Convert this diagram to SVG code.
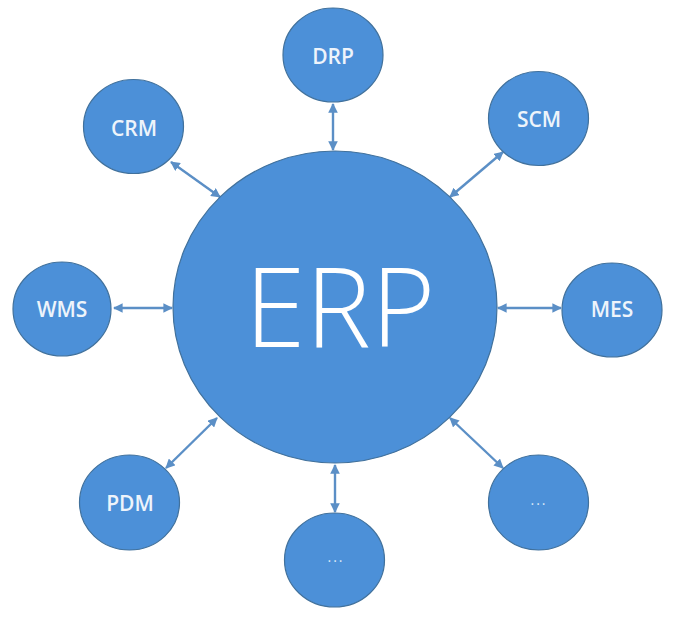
<svg xmlns="http://www.w3.org/2000/svg" width="677" height="617" viewBox="0 0 677 617">
<defs>
<style>
.node{fill:#4c90d8;stroke:#41719c;stroke-width:1.2}
.lbl{font-family:"Open Sans","Liberation Sans",sans-serif;font-weight:600;font-size:21px;fill:#eef4fb;text-anchor:middle}
.dots{font-family:"Open Sans","Liberation Sans",sans-serif;font-size:14px;fill:#dde9f7;text-anchor:middle;letter-spacing:2px}
.big{font-family:"Open Sans","Liberation Sans",sans-serif;font-weight:300;font-size:110px;fill:#ffffff;text-anchor:middle}
.conn{stroke:#5b8fc6;stroke-width:2.4;fill:none;marker-start:url(#ah);marker-end:url(#ah)}
</style>
<marker id="ah" viewBox="0 0 10 10" refX="9" refY="5" markerWidth="4" markerHeight="4" orient="auto-start-reverse" markerUnits="strokeWidth">
<path d="M0,0 L10,5 L0,10 z" fill="#5b8fc6"/>
</marker>
</defs>
<rect width="677" height="617" fill="#ffffff"/>
<g id="connectors">
<line class="conn" x1="333" y1="104" x2="333" y2="150"/>
<line class="conn" x1="171" y1="162" x2="220" y2="197"/>
<line class="conn" x1="503" y1="152" x2="450" y2="197"/>
<line class="conn" x1="114" y1="308" x2="172" y2="308"/>
<line class="conn" x1="498" y1="308" x2="561" y2="308"/>
<line class="conn" x1="217" y1="418" x2="166" y2="468"/>
<line class="conn" x1="450" y1="418" x2="503" y2="468"/>
<line class="conn" x1="335" y1="465" x2="335" y2="512"/>
</g>
<g id="ERP"><ellipse class="node" cx="335" cy="307" rx="162" ry="156"/><text class="big" x="340" y="347">ERP</text></g>
<g id="DRP"><ellipse class="node" cx="333" cy="55" rx="50" ry="47"/><text class="lbl" x="333" y="64">DRP</text></g>
<g id="CRM"><ellipse class="node" cx="133.5" cy="126.5" rx="50" ry="47"/><text class="lbl" x="134" y="136">CRM</text></g>
<g id="SCM"><ellipse class="node" cx="538.5" cy="118.5" rx="50" ry="47"/><text class="lbl" x="539" y="127">SCM</text></g>
<g id="WMS"><ellipse class="node" cx="62" cy="309" rx="49" ry="47"/><text class="lbl" x="62" y="317">WMS</text></g>
<g id="MES"><ellipse class="node" cx="612" cy="310" rx="50" ry="47"/><text class="lbl" x="612" y="317">MES</text></g>
<g id="PDM"><ellipse class="node" cx="129.5" cy="502.5" rx="50" ry="47.5"/><text class="lbl" x="130" y="511">PDM</text></g>
<g id="more-right"><ellipse class="node" cx="538.5" cy="502.5" rx="50" ry="47.5"/><text class="dots" x="539" y="505">...</text></g>
<g id="more-bottom"><ellipse class="node" cx="334.5" cy="560" rx="50" ry="47"/><text class="dots" x="336" y="562">...</text></g>
</svg>
